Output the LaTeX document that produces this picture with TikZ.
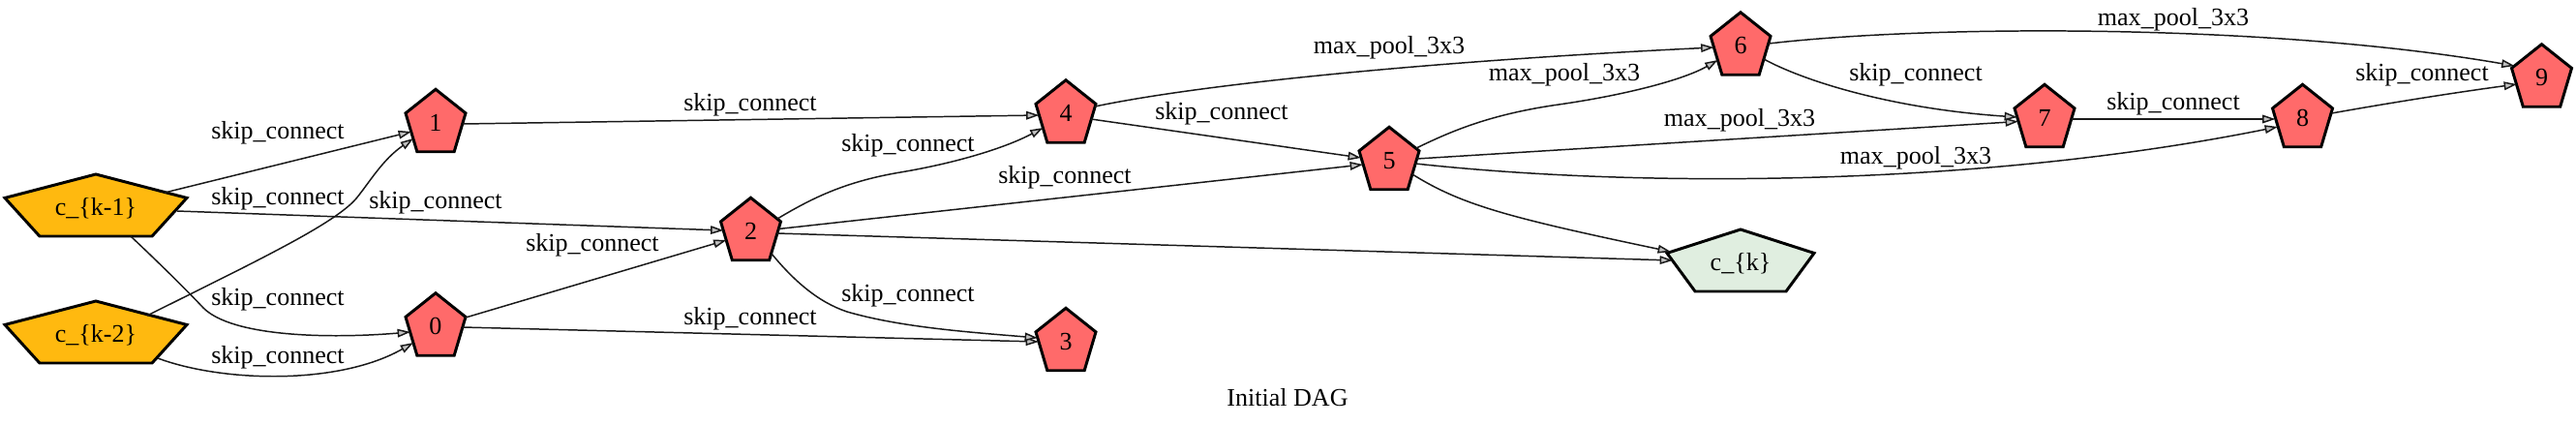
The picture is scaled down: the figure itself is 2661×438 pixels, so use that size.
\documentclass[tikz,border=0pt]{standalone}
\usepackage{fontspec}
\setmainfont{Liberation Serif}
\usetikzlibrary{arrows.meta,calc}
\definecolor{redfill}{HTML}{FF6A6A}
\definecolor{orangefill}{HTML}{FFB90F}
\definecolor{greenfill}{HTML}{E0EEE0}
\definecolor{arrowgray}{HTML}{C0C0C0}
\definecolor{edgecol}{HTML}{1A1A1A}
% name, x, y, width, height, fill style, text
\newcommand\pentnode[7]{%
  \path[pentshape,#6] ({#2},{#3-#5/2}) -- ({#2+#4/2},{#3-0.118*#5}) -- ({#2+0.309*#4},{#3+#5/2}) -- ({#2-0.309*#4},{#3+#5/2}) -- ({#2-#4/2},{#3-0.118*#5}) -- cycle;
  \coordinate (#1) at (#2,#3);
  \node[pentlabel] (#1-t) at ($(#1)+(0,10.5)$) {#7};
}
\begin{document}
\begin{tikzpicture}[x=0.5376pt,y=-0.5376pt,
  font=\fontsize{14pt}{16pt}\selectfont,
  pentshape/.style={draw=black, line width=1.6pt, line join=miter},
  redp/.style={fill=redfill},
  orangep/.style={fill=orangefill},
  greenp/.style={fill=greenfill},
  pentlabel/.style={anchor=base, inner sep=0pt},
  elabel/.style={inner sep=0pt},
  conn/.style={draw=edgecol, line width=0.8pt, -{Triangle[length=7.2pt,width=4.6pt,fill=arrowgray]}}]
\useasboundingbox (0,0) rectangle (2661,438);

% nodes
\pentnode{km1}{99}{212}{188}{64}{orangep}{c\_\{k-1\}}
\pentnode{km2}{99}{343}{188}{64}{orangep}{c\_\{k-2\}}
\pentnode{n1}{450}{124.5}{62}{64.5}{redp}{1}
\pentnode{n0}{450}{335}{62}{64.5}{redp}{0}
\pentnode{n2}{775.5}{236.5}{62}{64.5}{redp}{2}
\pentnode{n4}{1101}{115}{62}{64.5}{redp}{4}
\pentnode{n3}{1101}{350.5}{62}{64.5}{redp}{3}
\pentnode{n5}{1435}{163.5}{62}{64.5}{redp}{5}
\pentnode{n6}{1798}{45}{62}{64.5}{redp}{6}
\pentnode{ck}{1798}{269}{152}{64}{greenp}{c\_\{k\}}
\pentnode{n7}{2112}{119.5}{62}{64.5}{redp}{7}
\pentnode{n8}{2378.5}{119.5}{62}{64.5}{redp}{8}
\pentnode{n9}{2625.5}{78}{62}{64.5}{redp}{9}

% edges
\draw[conn] ($(km1)+(71,-13)$) -- ($(n1)+(-25,11.5)$);
\draw[conn] ($(km2)+(53,-17)$) .. controls (260,272) and (345,232) .. (368,205) .. controls (382,188) and (395,165) .. ($(n1)+(-23,18.5)$);
\draw[conn] ($(km1)+(84,6)$) -- ($(n2)+(-28,1.5)$);
\draw[conn] ($(km1)+(36,32)$) .. controls (170,277) and (195,302) .. (210,318) .. controls (240,348) and (340,350) .. ($(n0)+(-26,8)$);
\draw[conn] ($(km2)+(64,27)$) .. controls (230,395) and (350,398) .. ($(n0)+(-23,19)$);
\draw[conn] ($(n1)+(28,3.5)$) -- ($(n4)+(-27.5,4)$);
\draw[conn] ($(n0)+(31,-7)$) -- ($(n2)+(-25,11.5)$);
\draw[conn] ($(n0)+(28,3)$) -- ($(n3)+(-28,2.5)$);
\draw[conn] ($(n2)+(27.5,-10.5)$) .. controls (835,207) and (870,188) .. (930,178) .. controls (990,168) and (1040,152) .. ($(n4)+(-23.5,17)$);
\draw[conn] ($(n2)+(28.5,0)$) -- ($(n5)+(-27,6.5)$);
\draw[conn] ($(n2)+(27,4.5)$) -- ($(ck)+(-70,0)$);
\draw[conn] ($(n2)+(21.5,25.5)$) .. controls (820,290) and (845,312) .. (875,322) .. controls (930,338) and (1000,343) .. ($(n3)+(-29,-1.5)$);
\draw[conn] ($(n4)+(30,-5)$) .. controls (1250,85) and (1500,62) .. ($(n6)+(-27.5,4)$);
\draw[conn] ($(n4)+(26,8)$) -- ($(n5)+(-29,-0.5)$);
\draw[conn] ($(n5)+(28,-10.5)$) .. controls (1500,135) and (1540,118) .. (1610,108) .. controls (1680,98) and (1740,82) .. ($(n6)+(-23.5,17)$);
\draw[conn] ($(n5)+(28.5,0.5)$) -- ($(n7)+(-27,6)$);
\draw[conn] ($(n5)+(27,5.5)$) .. controls (1700,195) and (2050,192) .. ($(n8)+(-25.5,11.5)$);
\draw[conn] ($(n5)+(24,16.5)$) .. controls (1510,212) and (1560,225) .. ($(ck)+(-72,-9)$);
\draw[conn] ($(n6)+(29,0)$) .. controls (2000,25) and (2350,25) .. ($(n9)+(-28,-10)$);
\draw[conn] ($(n6)+(24,16)$) .. controls (1860,82) and (1950,112) .. ($(n7)+(-28,1.5)$);
\draw[conn] ($(n7)+(28,3.5)$) -- ($(n8)+(-28,3.5)$);
\draw[conn] ($(n8)+(30,-2.5)$) .. controls (2470,106) and (2540,95) .. ($(n9)+(-25.5,9)$);

% edge labels
\node[elabel] (l1) at (287,137) {skip\_connect};
\node[elabel] (l2) at (287,205) {skip\_connect};
\node[elabel] (l3) at (450,209) {skip\_connect};
\node[elabel] (l4) at (287,309) {skip\_connect};
\node[elabel] (l5) at (287,369) {skip\_connect};
\node[elabel] (l6) at (775,108) {skip\_connect};
\node[elabel] (l7) at (938,150) {skip\_connect};
\node[elabel] (l8) at (1100,183) {skip\_connect};
\node[elabel] (l9) at (612,253) {skip\_connect};
\node[elabel] (l10) at (938,305) {skip\_connect};
\node[elabel] (l11) at (775,329) {skip\_connect};
\node[elabel] (l12) at (1435,49) {max\_pool\_3x3};
\node[elabel] (l13) at (1262,117.5) {skip\_connect};
\node[elabel] (l14) at (1616,77.5) {max\_pool\_3x3};
\node[elabel] (l15) at (1797,124) {max\_pool\_3x3};
\node[elabel] (l16) at (1979,163) {max\_pool\_3x3};
\node[elabel] (l17) at (2245,20) {max\_pool\_3x3};
\node[elabel] (l18) at (1979,77.5) {skip\_connect};
\node[elabel] (l19) at (2245,107) {skip\_connect};
\node[elabel] (l20) at (2502,77.5) {skip\_connect};

% title
\node[elabel] (title) at (1330,411) {Initial DAG};
\end{tikzpicture}
\end{document}
